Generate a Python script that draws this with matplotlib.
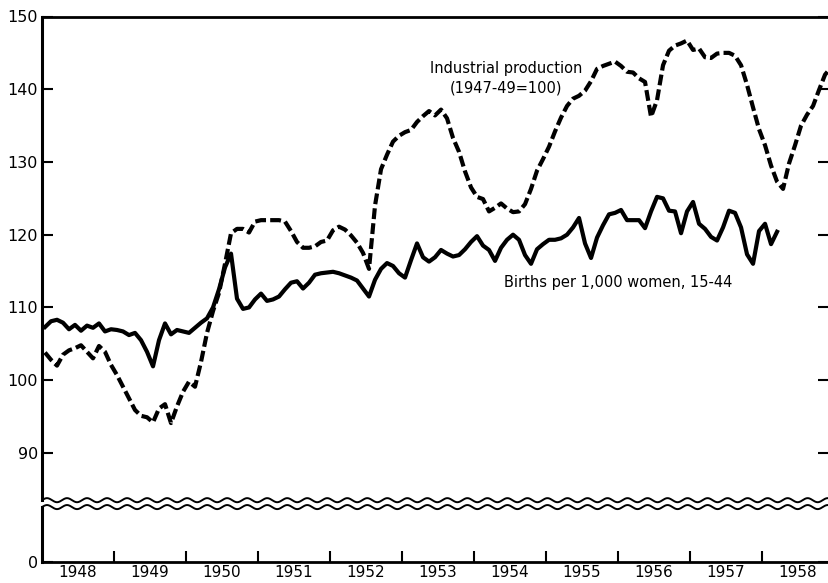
import numpy as np
import matplotlib.pyplot as plt

# monthly values, Jan 1948 onward
years = list(range(1948, 1959))
production = [
    103.8, 102.8, 102.0, 103.5, 104.1, 104.4, 104.8, 103.9, 103.0, 104.7, 103.9, 102.1,  # 1948
    100.7, 99.1, 97.5, 95.9, 95.1, 94.9, 94.2, 96.1, 96.7, 94.1, 96.4, 98.4,  # 1949
    99.8, 99.1, 102.5, 106.5, 109.5, 112.0, 116.0, 120.2, 120.8, 120.8, 120.3, 121.8,  # 1950
    122.0, 122.0, 122.0, 122.0, 121.8, 120.5, 119.0, 118.2, 118.2, 118.4, 119.0, 119.2,  # 1951
    120.6, 121.1, 120.7, 119.9, 118.9, 117.5, 115.3, 124.0, 129.0, 131.0, 132.8, 133.6,  # 1952
    134.1, 134.4, 135.5, 136.3, 137.0, 136.4, 137.2, 136.0, 133.3, 131.4, 128.7, 126.5,  # 1953
    125.2, 124.9, 123.2, 123.7, 124.3, 123.6, 123.1, 123.2, 124.2, 126.3, 128.8, 130.4,  # 1954
    132.1, 134.2, 136.1, 137.7, 138.7, 139.1, 139.8, 141.1, 142.8, 143.2, 143.5, 143.8,  # 1955
    143.2, 142.4, 142.3, 141.5, 141.0, 136.2, 138.5, 143.3, 145.3, 146.0, 146.3, 146.7,  # 1956
    145.4, 145.6, 144.4, 144.3, 144.9, 145.0, 145.0, 144.6, 143.3, 140.6, 137.5, 134.5,  # 1957
    132.3, 129.5, 127.3, 126.3, 129.8, 132.3, 135.0, 136.5, 137.7, 139.9, 142.0, 143.0,  # 1958
]
births = [
    107.3, 108.1, 108.3, 107.9, 107.0, 107.6, 106.8, 107.5, 107.2, 107.8, 106.7, 107.0,  # 1948
    106.9, 106.7, 106.2, 106.5, 105.5, 103.9, 101.9, 105.5, 107.8, 106.3, 106.9, 106.7,  # 1949
    106.5, 107.2, 107.9, 108.5, 110.0, 112.5, 115.5, 117.4, 111.2, 109.8, 110.0, 111.1,  # 1950
    111.9, 110.9, 111.1, 111.5, 112.5, 113.4, 113.6, 112.6, 113.4, 114.5, 114.7, 114.8,  # 1951
    114.9, 114.7, 114.4, 114.1, 113.7, 112.6, 111.5, 113.8, 115.3, 116.1, 115.7, 114.7,  # 1952
    114.1, 116.5, 118.8, 116.9, 116.3, 116.9, 117.9, 117.4, 117.0, 117.2, 118.0, 119.0,  # 1953
    119.8, 118.5, 117.9, 116.4, 118.2, 119.3, 120.0, 119.3, 117.2, 116.0, 118.0, 118.7,  # 1954
    119.3, 119.3, 119.5, 120.0, 121.0, 122.3, 118.8, 116.8, 119.6, 121.3, 122.8, 123.0,  # 1955
    123.4, 122.0, 122.0, 122.0, 120.9, 123.2, 125.2, 125.0, 123.3, 123.2, 120.2, 123.2,  # 1956
    124.5, 121.5, 120.8, 119.7, 119.2, 121.0, 123.3, 123.0, 121.0, 117.3, 116.0, 120.5,  # 1957
    121.5, 118.7, 120.4,  # 1958
]

prod_x = 1948 + (np.arange(len(production)) + 0.5) / 12
birth_x = 1948 + (np.arange(len(births)) + 0.5) / 12

x0, x1 = 1948, 1958.93
y0, y1 = 75, 150

fig = plt.figure(figsize=(8.29, 5.83), dpi=100)
ax = fig.add_axes([42 / 829, 21 / 583, 787 / 829, 545.5 / 583])

ax.plot(prod_x, production, color='black', lw=3, dashes=(2.6, 1.0))
ax.plot(birth_x, births, color='black', lw=3, solid_joinstyle='round')

# axis break
xs = np.linspace(x0, x1, 3000)
wave = 0.28 * np.sin(2 * np.pi * (xs - x0) / 0.278)
ax.plot(xs, 83.5 + wave, color='black', lw=1.4)
ax.plot(xs, 82.55 + wave, color='black', lw=1.4)

ax.set_xlim(x0, x1)
ax.set_ylim(y0, y1)

ax.spines['right'].set_visible(False)
ax.spines['left'].set_visible(False)
ax.spines['top'].set_linewidth(2)
ax.spines['bottom'].set_linewidth(2)
ax.axvline(x0, ymin=0, ymax=(82.55 - y0) / (y1 - y0), color='black', lw=2.2, clip_on=False)
ax.axvline(x0, ymin=(83.5 - y0) / (y1 - y0), ymax=1, color='black', lw=2.2, clip_on=False)

ax.set_yticks([75, 90, 100, 110, 120, 130, 140, 150])
ax.set_yticklabels(['0', '90', '100', '110', '120', '130', '140', '150'])
ax.tick_params(axis='y', direction='in', length=8, width=1.5, left=True, right=True,
               labelright=False, labelsize=11.5, pad=3)

ax.set_xticks(years[1:])
ax.set_xticklabels([])
ax.set_xticks([y + 0.5 for y in years], minor=True)
ax.set_xticklabels([str(y) for y in years], minor=True)
ax.tick_params(axis='x', which='major', direction='in', length=8, width=1.5, top=False)
ax.tick_params(axis='x', which='minor', length=0, labelsize=11, pad=2)

ax.text(1954.45, 142.9, 'Industrial production', ha='center', va='center', fontsize=10.5)
ax.text(1954.45, 140.2, '(1947-49=100)', ha='center', va='center', fontsize=10.5)
ax.text(1956.0, 113.4, 'Births per 1,000 women, 15-44', ha='center', va='center', fontsize=10.5)

fig.savefig('out.png', dpi=100)
